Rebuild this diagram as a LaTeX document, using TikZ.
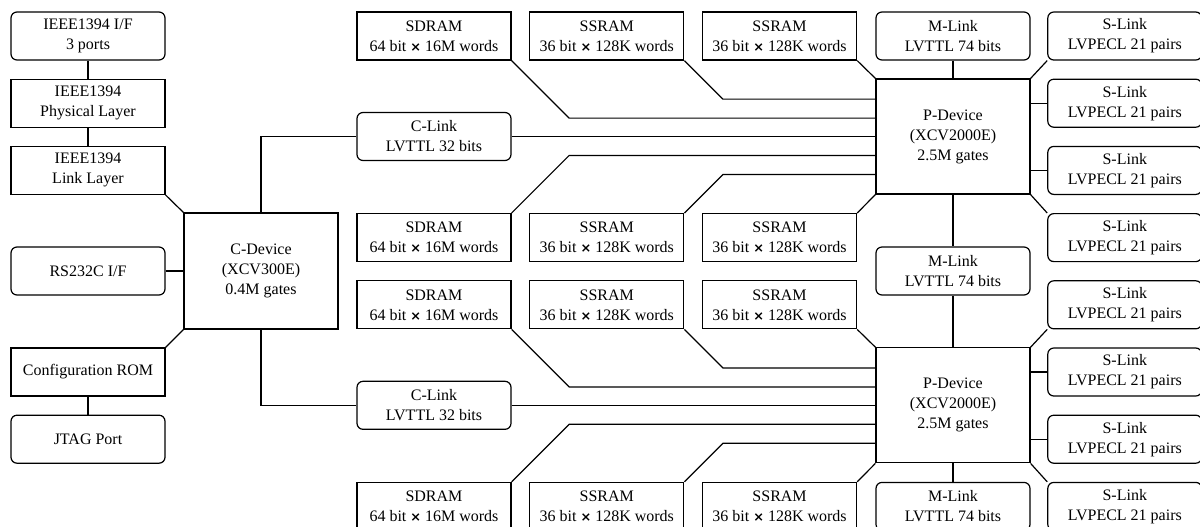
\documentclass[tikz,border=0pt]{standalone}
\usepackage{fontspec}
\setmainfont{Liberation Serif}
\newfontfamily\crossfont{DejaVu Sans}[Scale=0.8]
\newcommand{\mtimes}{{\crossfont\bfseries ×}}

\tikzset{
  blk/.style={draw, line width=0.6pt, minimum width=77pt, minimum height=24pt,
    inner sep=0pt, align=center, font=\fontsize{8}{10}\selectfont},
  lnk/.style={blk, rounded corners=3pt},
  dev/.style={blk, minimum height=57.5pt},
}

\begin{document}
\begin{tikzpicture}[x=0.5pt, y=-0.5pt, line width=0.6pt]
  \useasboundingbox (0,0) rectangle (1200,526);

  \node[lnk] (ifc) at (88,36) {IEEE1394 I/F\\3 ports};
  \node[blk] (phy) at (88,103.2) {IEEE1394\\Physical Layer};
  \node[blk] (lnl) at (88,170.4) {IEEE1394\\Link Layer};
  \node[lnk] (rs) at (88,271) {RS232C I/F};
  \node[blk] (rom) at (88,372) {Configuration ROM};
  \node[lnk] (jtag) at (88,439.2) {JTAG Port};
  \node[dev, minimum height=58pt] (cdev) at (261,271) {C-Device\\(XCV300E)\\0.4M gates};

  \draw (ifc) -- (phy);
  \draw (phy) -- (lnl);
  \draw (lnl.south east) -- (cdev.north west);
  \draw (rs) -- (cdev);
  \draw (rom.north east) -- (cdev.south west);
  \draw (rom) -- (jtag);

  \foreach \g/\dy in {1/0, 2/268.8} {
    \begin{scope}[shift={(0,\dy)}]
      \node[dev] (pd\g) at (953,136.5) {P-Device\\(XCV2000E)\\2.5M gates};
      \node[lnk] (cl\g) at (434,136.5) {C-Link\\LVTTL 32 bits};
      \node[blk] (sdA\g) at (434,36) {SDRAM\\64 bit \mtimes{} 16M words};
      \node[blk] (ssA\g) at (606.8,36) {SSRAM\\36 bit \mtimes{} 128K words};
      \node[blk] (stA\g) at (779.6,36) {SSRAM\\36 bit \mtimes{} 128K words};
      \node[blk] (sdB\g) at (434,237.6) {SDRAM\\64 bit \mtimes{} 16M words};
      \node[blk] (ssB\g) at (606.8,237.6) {SSRAM\\36 bit \mtimes{} 128K words};
      \node[blk] (stB\g) at (779.6,237.6) {SSRAM\\36 bit \mtimes{} 128K words};
      \node[lnk] (sl\g1) at (1124.8,36) {S-Link\\LVPECL 21 pairs};
      \node[lnk] (sl\g2) at (1124.8,103.2) {S-Link\\LVPECL 21 pairs};
      \node[lnk] (sl\g3) at (1124.8,170.4) {S-Link\\LVPECL 21 pairs};
      \node[lnk] (sl\g4) at (1124.8,237.6) {S-Link\\LVPECL 21 pairs};

      \draw (sdA\g.south east) -- ++(57.5,57.5) coordinate (k) -- (k -| pd\g.west);
      \draw (ssA\g.south east) -- ++(38.5,38.5) coordinate (k) -- (k -| pd\g.west);
      \draw (stA\g.south east) -- (pd\g.north west);
      \draw (cl\g) -- (pd\g);
      \draw (sdB\g.north east) -- ++(57.5,-57.5) coordinate (k) -- (k -| pd\g.west);
      \draw (ssB\g.north east) -- ++(38.5,-38.5) coordinate (k) -- (k -| pd\g.west);
      \draw (stB\g.north east) -- (pd\g.south west);

      \draw (pd\g.north east) -- (sl\g1.south west);
      \draw (sl\g2.west) -- (sl\g2.west -| pd\g.east);
      \draw (sl\g3.west) -- (sl\g3.west -| pd\g.east);
      \draw (pd\g.south east) -- (sl\g4.north west);
    \end{scope}
  }

  \draw (cdev.north) |- (cl1.west);
  \draw (cdev.south) |- (cl2.west);

  \node[lnk] (ml1) at (953,36) {M-Link\\LVTTL 74 bits};
  \node[lnk] (ml2) at (953,271) {M-Link\\LVTTL 74 bits};
  \node[lnk] (ml3) at (953,506.4) {M-Link\\LVTTL 74 bits};
  \draw (ml1) -- (pd1);
  \draw (pd1) -- (ml2);
  \draw (ml2) -- (pd2);
  \draw (pd2) -- (ml3);
\end{tikzpicture}
\end{document}
